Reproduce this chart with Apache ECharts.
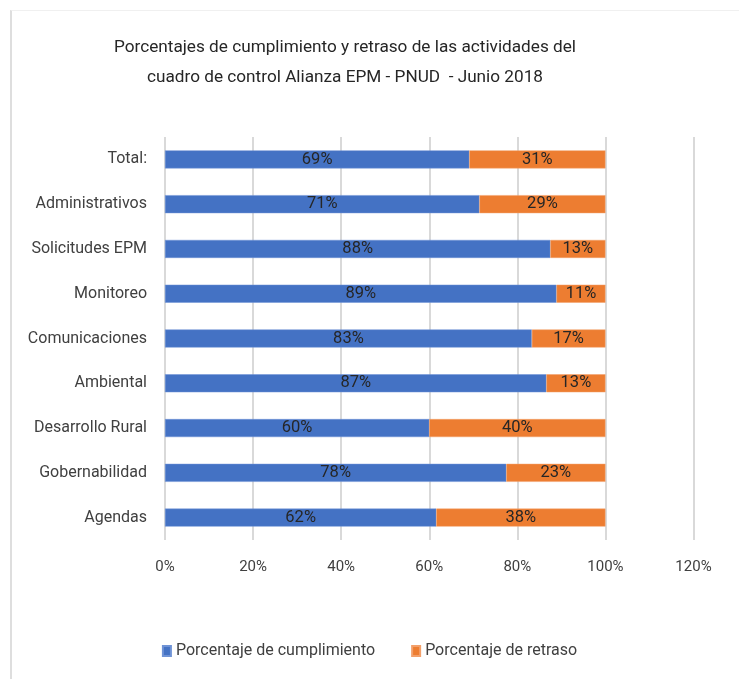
<!DOCTYPE html>
<html>
<head>
<meta charset="utf-8">
<title>Porcentajes de cumplimiento y retraso</title>
<script src="https://cdn.jsdelivr.net/npm/echarts@6/dist/echarts.min.js"></script>
<style>
  html, body { margin: 0; padding: 0; background: #fff; }
  #frame {
    position: absolute; left: 10px; top: 10px; width: 729px; height: 669px;
    border-left: 2px solid #dedede; border-top: 1px solid #f0f0f0;
  }
  #main { position: absolute; left: 0; top: 0; width: 739px; height: 679px; }
</style>
</head>
<body>
<div id="frame"></div>
<div id="main"></div>
<script>
// categorias de abajo hacia arriba (como en el eje)
var categorias = ['Agendas', 'Gobernabilidad', 'Desarrollo Rural', 'Ambiental', 'Comunicaciones',
                  'Monitoreo', 'Solicitudes EPM', 'Administrativos', 'Total:'];
var cumplimiento = [61.6, 77.5, 60, 86.6, 83.3, 88.9, 87.5, 71.4, 69.1];
var retraso = [38.4, 22.5, 40, 13.4, 16.7, 11.1, 12.5, 28.6, 30.9];
var ticksX = [0, 20, 40, 60, 80, 100, 120];

var fuente = "Roboto, 'Noto Sans', sans-serif";

var myChart = echarts.init(document.getElementById('main'));

var etiqueta = {
  show: true,
  position: 'inside',
  color: '#262626',
  fontFamily: fuente,
  fontSize: 16.5,
  formatter: function (p) { return Math.round(p.value) + '%'; }
};

myChart.setOption({
  animation: false,
  textStyle: { fontFamily: fuente },
  title: {
    text: 'Porcentajes de cumplimiento y retraso de las actividades del\ncuadro de control Alianza EPM - PNUD  - Junio 2018',
    left: 340,
    top: 28,
    textAlign: 'center',
    textStyle: {
      fontFamily: fuente,
      fontSize: 17.2,
      fontWeight: 'normal',
      color: '#262626',
      lineHeight: 30
    }
  },
  legend: {
    bottom: 15,
    left: 'center',
    itemWidth: 8,
    itemHeight: 10,
    itemGap: 36,
    icon: 'rect',
    textStyle: { fontFamily: fuente, fontSize: 16, color: '#404040' },
    data: ['Porcentaje de cumplimiento', 'Porcentaje de retraso']
  },
  grid: {
    left: 165,
    right: 45.5,
    top: 137,
    bottom: 139,
    containLabel: false
  },
  xAxis: {
    type: 'value',
    min: ticksX[0],
    max: ticksX[ticksX.length - 1],
    interval: 20,
    axisLine: { show: false },
    axisTick: { show: false },
    splitLine: { lineStyle: { color: '#d9d9d9', width: 2 } },
    axisLabel: {
      margin: 20,
      color: '#404040',
      fontFamily: fuente,
      fontSize: 15,
      formatter: '{value}%'
    }
  },
  yAxis: {
    type: 'category',
    data: categorias,
    axisLine: { show: false },
    axisTick: { show: false },
    axisLabel: {
      margin: 18,
      color: '#404040',
      fontFamily: fuente,
      fontSize: 16
    }
  },
  series: [
    {
      name: 'Porcentaje de cumplimiento',
      type: 'bar',
      stack: 'total',
      barWidth: 18,
      itemStyle: { color: '#4472C4', borderColor: '#6f93d6', borderWidth: 0.5 },
      label: etiqueta,
      data: cumplimiento
    },
    {
      name: 'Porcentaje de retraso',
      type: 'bar',
      stack: 'total',
      barWidth: 18,
      itemStyle: { color: '#ED7D31', borderColor: '#f3a06a', borderWidth: 0.5 },
      label: etiqueta,
      data: retraso
    }
  ]
});
</script>
</body>
</html>
